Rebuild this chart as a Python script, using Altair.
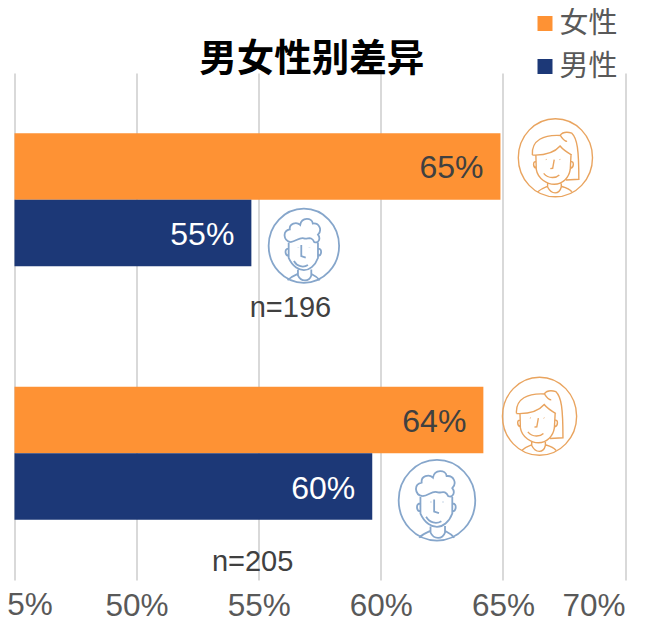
import altair as alt
import pandas as pd

FONT = "Liberation Sans, Noto Sans CJK SC, sans-serif"
CJK = "Liberation Sans, Noto Sans CJK SC"

groups = ["n=196", "n=196", "n=205", "n=205"]
genders = ["女性", "男性", "女性", "男性"]
values = [64.9, 54.7, 64.2, 59.65]
labels = ["65%", "55%", "64%", "60%"]

n_text = ["n=196", "n=205"]
n_x = [56.3, 54.75]

ticks = [45, 50, 55, 60, 65, 70]

icon_x = [67.15, 56.85, 66.5, 62.3]
icon_group = ["n=196", "n=196", "n=205", "n=205"]
icon_kind = ["woman", "man", "woman", "man"]
icon_shift = [-42, 46, -37, 47]
icon_size = [6100, 5500, 6100, 6500]

WOMAN = (
    "M-.95 0A.95 1 0 1 1 .95 0A.95 1 0 1 1 -.95 0Z"
    "M-.59 -.07C-.62 -.45 -.3 -.6 .15 -.57"
    "M-.59 -.07C-.35 -.06 -.05 -.1 .12 -.3C.2 -.2 .33 -.12 .42 -.07"
    "M.12 -.57C.2 -.68 .32 -.66 .42 -.63C.56 -.5 .6 -.2 .6 .55L.27 .57"
    "M.12 -.58C.17 -.5 .25 -.42 .3 -.42"
    "M-.5 -.07L-.49 .3C-.45 .55 -.2 .68 -.03 .68C.2 .68 .35 .5 .38 .3L.4 -.07"
    "M-.5 .1C-.58 .08 -.58 .25 -.49 .27M.4 .1C.48 .08 .48 .25 .39 .27"
    "M-.24 .04L-.23 .05M.11 .04L.12 .05"
    "M-.03 .05L-.07 .27L-.13 .28"
    "M-.3 .4C-.17 .55 .02 .52 .1 .44"
    "M-.2 .66L-.2 .75C-.1 .95 .1 .95 .15 .75L.15 .66"
    "M-.45 .87C-.35 .78 -.25 .75 -.2 .73M.42 .87C.35 .78 .22 .75 .15 .73"
)
MAN = (
    "M-.95 0A.95 1 0 1 1 .95 0A.95 1 0 1 1 -.95 0Z"
    "M-.36 -.1C-.56 -.14 -.58 -.4 -.38 -.44C-.4 -.6 -.2 -.66 -.1 -.56"
    "C-.06 -.78 .22 -.76 .24 -.6C.42 -.62 .5 -.42 .38 -.3C.46 -.2 .4 -.06 .28 -.1"
    "C.2 -.28 .1 -.16 0 -.2C-.12 -.24 -.2 -.12 -.36 -.1"
    "M-.41 -.08L-.41 .33C-.3 .58 -.12 .66 0 .66C.14 .66 .3 .55 .38 .33L.38 -.08"
    "M-.43 .08C-.52 .08 -.52 .27 -.41 .28M.4 .08C.49 .08 .49 .27 .38 .28"
    "M-.15 .04L-.15 .05M.15 .04L.15 .05"
    "M-.07 -.02L-.07 .28L.05 .32"
    "M-.27 .41C-.18 .56 -.02 .6 .11 .52"
    "M-.16 .65L-.16 .8C-.08 .98 .14 .98 .2 .8L.2 .64"
    "M-.44 .93C-.35 .83 -.25 .8 -.16 .76M.43 .93C.35 .83 .28 .8 .2 .76"
)
ICON_STYLE = {
    "woman": (WOMAN, "#E9A45F", 1.4),
    "man": (MAN, "#86A6CB", 1.8),
}

df = pd.DataFrame({"group": groups, "gender": genders, "value": values, "label": labels})
df_n = pd.DataFrame({"group": n_text, "text": n_text, "x": n_x})

x_scale = alt.Scale(domain=[ticks[0], ticks[-1]], nice=False, zero=False)
y_scale = alt.Scale(domain=n_text, paddingInner=0.475, paddingOuter=0.2375)
off_scale = alt.Scale(domain=["女性", "男性"], paddingInner=0, paddingOuter=0)
X = alt.X(
    "value:Q",
    scale=x_scale,
    title=None,
    axis=alt.Axis(
        values=ticks,
        grid=True,
        gridColor="#D9D9D9",
        gridWidth=2,
        domain=False,
        ticks=False,
        labelFont=FONT,
        labelFontSize=31.5,
        labelColor="#595959",
        labelPadding=10,
        labelExpr="datum.value == 45 ? '' : datum.value + '%'",
    ),
)
Y = alt.Y("group:N", scale=y_scale, axis=None, title=None)
YO = alt.YOffset("gender:N", scale=off_scale)

bars = alt.Chart(df).mark_bar().encode(
    x=X,
    x2=alt.X2(datum=45),
    y=Y,
    yOffset=YO,
    color=alt.Color(
        "gender:N",
        scale=alt.Scale(domain=["女性", "男性"], range=["#FE9234", "#1C3877"]),
        legend=alt.Legend(
            orient="none",
            legendX=516,
            legendY=-64,
            title=None,
            symbolType="square",
            symbolSize=225,
            symbolStrokeWidth=0,
            labelFont=CJK,
            labelFontSize=29,
            labelColor="#595959",
            labelOffset=0,
            rowPadding=13,
            padding=0,
        ),
    ),
)

bar_text = alt.Chart(df).mark_text(
    align="right", baseline="middle", font=FONT, fontSize=32, dx=-17, dy=2
).encode(
    x=alt.X("value:Q", scale=x_scale),
    y=Y,
    yOffset=YO,
    text="label:N",
    color=alt.condition(alt.datum.gender == "女性", alt.value("#404040"), alt.value("#FFFFFF")),
)

n_layer = alt.Chart(df_n).mark_text(
    align="center", baseline="middle", font=FONT, fontSize=29, color="#404040", dy=108.5
).encode(
    x=alt.X("x:Q", scale=x_scale),
    y=Y,
    text="text:N",
)

first_tick = alt.Chart(pd.DataFrame({"v": [ticks[0]], "t": ["5%"]})).mark_text(
    align="center", baseline="top", font=FONT, fontSize=31.5, color="#595959", dx=15.5
).encode(
    x=alt.X("v:Q", scale=x_scale),
    y=alt.YValue(517),
    text="t:N",
)

layers = [bars, bar_text, n_layer, first_tick]
for ix, ig, ik, ish, isz in zip(icon_x, icon_group, icon_kind, icon_shift, icon_size):
    path, colour, sw = ICON_STYLE[ik]
    one = pd.DataFrame({"x": [ix], "group": [ig]})
    layers.append(
        alt.Chart(one).mark_point(
            shape=path, filled=False, stroke=colour, strokeWidth=sw, size=isz, yOffset=ish, opacity=1
        ).encode(x=alt.X("x:Q", scale=x_scale), y=Y)
    )

chart = alt.layer(*layers).properties(
    width=610.5,
    height=507,
    padding={"left": 6.5, "top": 65, "right": 23, "bottom": 42},
    autosize=alt.AutoSizeParams(type="none"),
    title=alt.TitleParams(
        "男女性别差异",
        font=CJK,
        fontSize=37.5,
        fontWeight="bold",
        color="#000000",
        anchor="middle",
        dx=-8,
        offset=-69,
    ),
).configure_view(stroke=None)

chart.save("out.html", embed_options={"renderer": "svg", "actions": False})
